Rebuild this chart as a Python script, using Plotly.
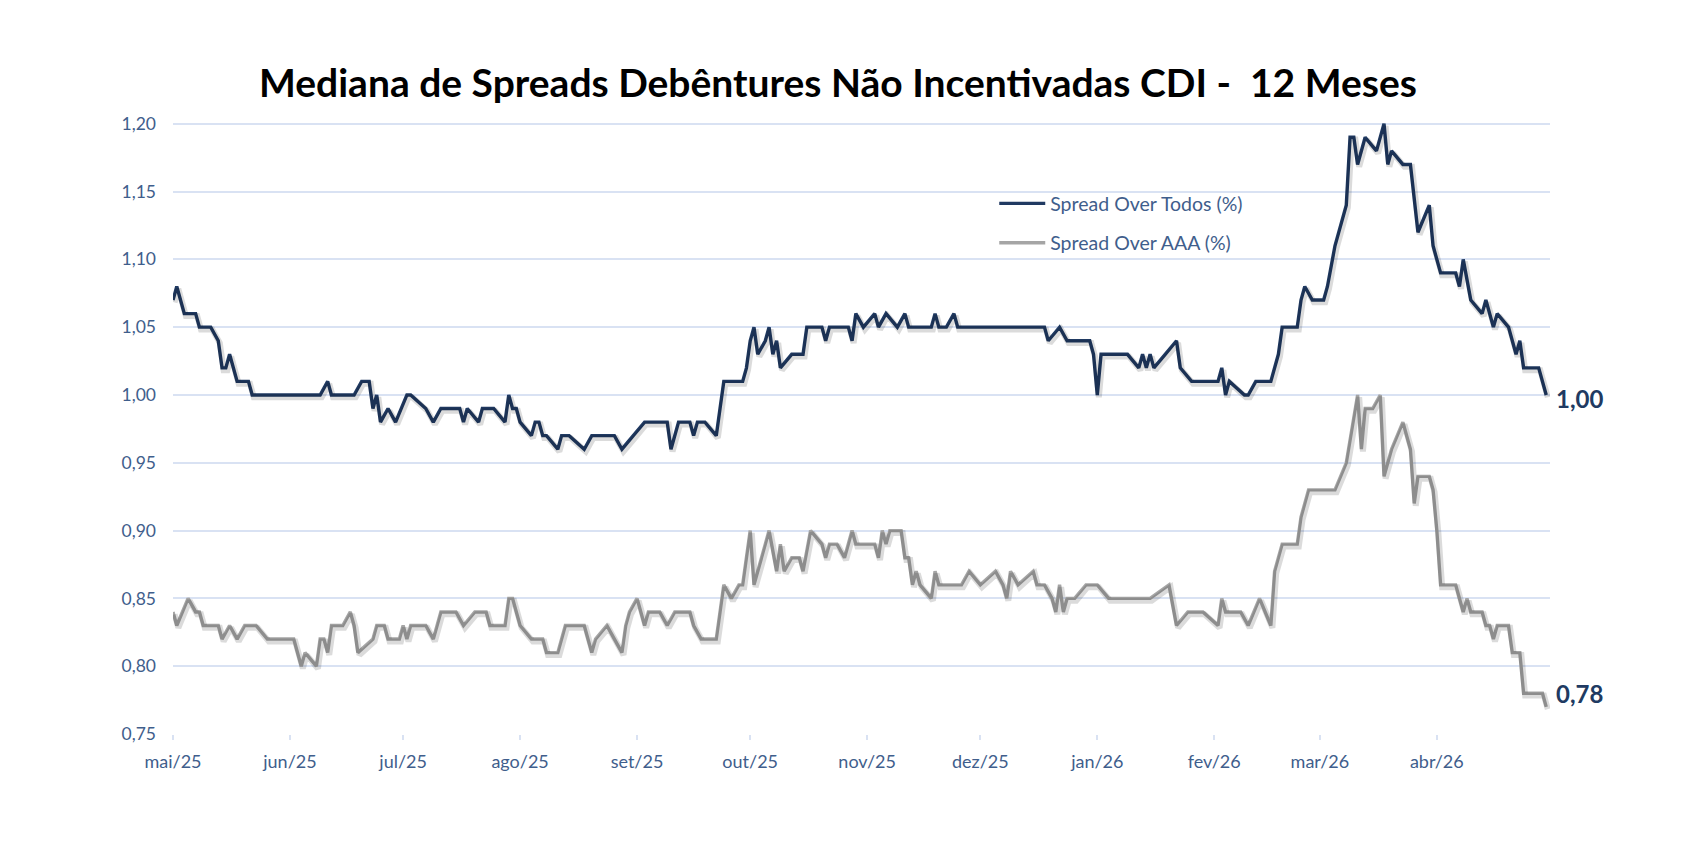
import plotly.graph_objects as go

# ---------------- data ----------------
title_text = "Mediana de Spreads Debêntures Não Incentivadas CDI -  12 Meses"
name_todos = "Spread Over Todos (%)"
name_aaa = "Spread Over AAA (%)"

dates_todos = [
    "2025-05-01", "2025-05-02", "2025-05-04", "2025-05-07", "2025-05-08", "2025-05-11", "2025-05-13",
    "2025-05-14", "2025-05-15", "2025-05-16", "2025-05-18", "2025-05-21", "2025-05-22", "2025-06-09",
    "2025-06-11", "2025-06-12", "2025-06-18", "2025-06-20", "2025-06-22", "2025-06-23", "2025-06-24",
    "2025-06-25", "2025-06-27", "2025-06-29", "2025-07-02", "2025-07-03", "2025-07-07", "2025-07-09",
    "2025-07-11", "2025-07-16", "2025-07-17", "2025-07-18", "2025-07-21", "2025-07-22", "2025-07-25",
    "2025-07-28", "2025-07-29", "2025-07-30", "2025-07-31", "2025-08-01", "2025-08-04", "2025-08-05",
    "2025-08-06", "2025-08-07", "2025-08-08", "2025-08-11", "2025-08-12", "2025-08-14", "2025-08-18",
    "2025-08-20", "2025-08-26", "2025-08-28", "2025-08-31", "2025-09-03", "2025-09-09", "2025-09-10",
    "2025-09-12", "2025-09-15", "2025-09-16", "2025-09-17", "2025-09-19", "2025-09-22", "2025-09-23",
    "2025-09-24", "2025-09-29", "2025-09-30", "2025-10-01", "2025-10-02", "2025-10-03", "2025-10-05",
    "2025-10-06", "2025-10-07", "2025-10-08", "2025-10-09", "2025-10-12", "2025-10-15", "2025-10-16",
    "2025-10-20", "2025-10-21", "2025-10-22", "2025-10-27", "2025-10-28", "2025-10-29", "2025-10-31",
    "2025-11-03", "2025-11-04", "2025-11-06", "2025-11-09", "2025-11-11", "2025-11-12", "2025-11-18",
    "2025-11-19", "2025-11-20", "2025-11-22", "2025-11-24", "2025-11-25", "2025-12-18", "2025-12-19",
    "2025-12-22", "2025-12-24", "2025-12-30", "2025-12-31", "2026-01-01", "2026-01-02", "2026-01-09",
    "2026-01-12", "2026-01-13", "2026-01-14", "2026-01-15", "2026-01-16", "2026-01-19", "2026-01-22",
    "2026-01-23", "2026-01-26", "2026-02-02", "2026-02-03", "2026-02-04", "2026-02-05", "2026-02-09",
    "2026-02-10", "2026-02-12", "2026-02-16", "2026-02-18", "2026-02-19", "2026-02-23", "2026-02-24",
    "2026-02-25", "2026-02-27", "2026-03-02", "2026-03-03", "2026-03-05", "2026-03-08", "2026-03-09",
    "2026-03-10", "2026-03-11", "2026-03-13", "2026-03-16", "2026-03-18", "2026-03-19", "2026-03-20",
    "2026-03-23", "2026-03-25", "2026-03-27", "2026-03-30", "2026-03-31", "2026-04-02", "2026-04-06",
    "2026-04-07", "2026-04-08", "2026-04-10", "2026-04-13", "2026-04-14", "2026-04-16", "2026-04-17",
    "2026-04-20", "2026-04-22", "2026-04-23", "2026-04-24", "2026-04-28", "2026-04-30",
]
todos = [
    1.07, 1.08, 1.06, 1.06, 1.05, 1.05, 1.04,
    1.02, 1.02, 1.03, 1.01, 1.01, 1.00, 1.00,
    1.01, 1.00, 1.00, 1.01, 1.01, 0.99, 1.00,
    0.98, 0.99, 0.98, 1.00, 1.00, 0.99, 0.98,
    0.99, 0.99, 0.98, 0.99, 0.98, 0.99, 0.99,
    0.98, 1.00, 0.99, 0.99, 0.98, 0.97, 0.98,
    0.98, 0.97, 0.97, 0.96, 0.97, 0.97, 0.96,
    0.97, 0.97, 0.96, 0.97, 0.98, 0.98, 0.96,
    0.98, 0.98, 0.97, 0.98, 0.98, 0.97, 0.99,
    1.01, 1.01, 1.02, 1.04, 1.05, 1.03, 1.04,
    1.05, 1.03, 1.04, 1.02, 1.03, 1.03, 1.05,
    1.05, 1.04, 1.05, 1.05, 1.04, 1.06, 1.05,
    1.06, 1.05, 1.06, 1.05, 1.06, 1.05, 1.05,
    1.06, 1.05, 1.05, 1.06, 1.05, 1.05, 1.04,
    1.05, 1.04, 1.04, 1.03, 1.00, 1.03, 1.03,
    1.02, 1.03, 1.02, 1.03, 1.02, 1.03, 1.04,
    1.02, 1.01, 1.01, 1.02, 1.00, 1.01, 1.00,
    1.00, 1.01, 1.01, 1.03, 1.05, 1.05, 1.07,
    1.08, 1.07, 1.07, 1.08, 1.11, 1.14, 1.19,
    1.19, 1.17, 1.19, 1.18, 1.20, 1.17, 1.18,
    1.17, 1.17, 1.12, 1.14, 1.11, 1.09, 1.09,
    1.08, 1.10, 1.07, 1.06, 1.07, 1.05, 1.06,
    1.05, 1.03, 1.04, 1.02, 1.02, 1.00,
]

dates_aaa = [
    "2025-05-01", "2025-05-02", "2025-05-05", "2025-05-07", "2025-05-08", "2025-05-09", "2025-05-13",
    "2025-05-14", "2025-05-16", "2025-05-18", "2025-05-20", "2025-05-23", "2025-05-26", "2025-06-02",
    "2025-06-04", "2025-06-05", "2025-06-08", "2025-06-09", "2025-06-10", "2025-06-11", "2025-06-12",
    "2025-06-15", "2025-06-17", "2025-06-18", "2025-06-19", "2025-06-23", "2025-06-24", "2025-06-26",
    "2025-06-27", "2025-06-30", "2025-07-01", "2025-07-02", "2025-07-03", "2025-07-07", "2025-07-09",
    "2025-07-11", "2025-07-15", "2025-07-17", "2025-07-20", "2025-07-23", "2025-07-24", "2025-07-28",
    "2025-07-29", "2025-07-30", "2025-08-01", "2025-08-04", "2025-08-07", "2025-08-08", "2025-08-11",
    "2025-08-12", "2025-08-13", "2025-08-18", "2025-08-20", "2025-08-21", "2025-08-24", "2025-08-26",
    "2025-08-28", "2025-08-29", "2025-08-30", "2025-09-01", "2025-09-03", "2025-09-04", "2025-09-07",
    "2025-09-09", "2025-09-11", "2025-09-15", "2025-09-16", "2025-09-18", "2025-09-22", "2025-09-23",
    "2025-09-24", "2025-09-26", "2025-09-28", "2025-09-29", "2025-10-01", "2025-10-02", "2025-10-04",
    "2025-10-06", "2025-10-08", "2025-10-09", "2025-10-10", "2025-10-12", "2025-10-14", "2025-10-15",
    "2025-10-17", "2025-10-20", "2025-10-21", "2025-10-22", "2025-10-24", "2025-10-26", "2025-10-28",
    "2025-10-29", "2025-11-03", "2025-11-04", "2025-11-05", "2025-11-06", "2025-11-07", "2025-11-10",
    "2025-11-11", "2025-11-12", "2025-11-13", "2025-11-14", "2025-11-15", "2025-11-18", "2025-11-19",
    "2025-11-20", "2025-11-26", "2025-11-28", "2025-12-01", "2025-12-05", "2025-12-07", "2025-12-08",
    "2025-12-09", "2025-12-11", "2025-12-15", "2025-12-16", "2025-12-18", "2025-12-20", "2025-12-21",
    "2025-12-22", "2025-12-23", "2025-12-24", "2025-12-26", "2025-12-29", "2026-01-01", "2026-01-04",
    "2026-01-15", "2026-01-20", "2026-01-22", "2026-01-25", "2026-01-29", "2026-02-02", "2026-02-03",
    "2026-02-04", "2026-02-08", "2026-02-10", "2026-02-13", "2026-02-16", "2026-02-17", "2026-02-19",
    "2026-02-23", "2026-02-24", "2026-02-26", "2026-03-05", "2026-03-08", "2026-03-11", "2026-03-12",
    "2026-03-13", "2026-03-15", "2026-03-17", "2026-03-18", "2026-03-20", "2026-03-23", "2026-03-25",
    "2026-03-26", "2026-03-27", "2026-03-30", "2026-03-31", "2026-04-01", "2026-04-02", "2026-04-06",
    "2026-04-07", "2026-04-08", "2026-04-09", "2026-04-10", "2026-04-13", "2026-04-14", "2026-04-15",
    "2026-04-16", "2026-04-17", "2026-04-20", "2026-04-21", "2026-04-23", "2026-04-24", "2026-04-29",
    "2026-04-30",
]
aaa = [
    0.84, 0.83, 0.85, 0.84, 0.84, 0.83, 0.83,
    0.82, 0.83, 0.82, 0.83, 0.83, 0.82, 0.82,
    0.80, 0.81, 0.80, 0.82, 0.82, 0.81, 0.83,
    0.83, 0.84, 0.83, 0.81, 0.82, 0.83, 0.83,
    0.82, 0.82, 0.83, 0.82, 0.83, 0.83, 0.82,
    0.84, 0.84, 0.83, 0.84, 0.84, 0.83, 0.83,
    0.85, 0.85, 0.83, 0.82, 0.82, 0.81, 0.81,
    0.82, 0.83, 0.83, 0.81, 0.82, 0.83, 0.82,
    0.81, 0.83, 0.84, 0.85, 0.83, 0.84, 0.84,
    0.83, 0.84, 0.84, 0.83, 0.82, 0.82, 0.84,
    0.86, 0.85, 0.86, 0.86, 0.90, 0.86, 0.88,
    0.90, 0.87, 0.89, 0.87, 0.88, 0.88, 0.87,
    0.90, 0.89, 0.88, 0.89, 0.89, 0.88, 0.90,
    0.89, 0.89, 0.88, 0.90, 0.89, 0.90, 0.90,
    0.88, 0.88, 0.86, 0.87, 0.86, 0.85, 0.87,
    0.86, 0.86, 0.87, 0.86, 0.87, 0.86, 0.85,
    0.87, 0.86, 0.87, 0.86, 0.86, 0.85, 0.84,
    0.86, 0.84, 0.85, 0.85, 0.86, 0.86, 0.85,
    0.85, 0.86, 0.83, 0.84, 0.84, 0.83, 0.85,
    0.84, 0.84, 0.83, 0.85, 0.83, 0.87, 0.89,
    0.89, 0.91, 0.93, 0.93, 0.95, 1.00, 0.96,
    0.99, 0.99, 1.00, 0.94, 0.96, 0.98, 0.96,
    0.92, 0.94, 0.94, 0.93, 0.90, 0.86, 0.86,
    0.85, 0.84, 0.85, 0.84, 0.84, 0.83, 0.83,
    0.82, 0.83, 0.83, 0.81, 0.81, 0.78, 0.78,
    0.77,
]

end_labels = [1.00, 0.78]  # values printed at the right end of each line

month_ticks = ["2025-05-01", "2025-06-01", "2025-07-01", "2025-08-01", "2025-09-01", "2025-10-01",
               "2025-11-01", "2025-12-01", "2026-01-01", "2026-02-01", "2026-03-01", "2026-04-01"]
month_labels = ["mai/25", "jun/25", "jul/25", "ago/25", "set/25", "out/25",
                "nov/25", "dez/25", "jan/26", "fev/26", "mar/26", "abr/26"]
y_ticks = [0.75, 0.80, 0.85, 0.90, 0.95, 1.00, 1.05, 1.10, 1.15, 1.20]

# ---------------- styling ----------------
NAVY = "#203A62"
GRAY = "#A5A5A5"
LABEL = "#3F5E8C"
GRID = "#D9E2F3"
FONT = "Lato"

X_RANGE = ["2025-05-01", "2026-05-01"]
Y_RANGE = [0.75, 1.2035]

fig = go.Figure()

# soft drop shadows (same data drawn on slightly offset overlay axes)
for d, v in ((dates_aaa, aaa), (dates_todos, todos)):
    fig.add_trace(go.Scatter(x=d, y=v, mode="lines", xaxis="x2", yaxis="y2",
                             line=dict(color="rgba(0,0,0,0.14)", width=6),
                             showlegend=False, hoverinfo="skip"))

fig.add_trace(go.Scatter(x=dates_todos, y=todos, mode="lines", name=name_todos,
                         legendgroup="a", line=dict(color=NAVY, width=3.4)))
fig.add_trace(go.Scatter(x=dates_aaa, y=aaa, mode="lines", name=name_aaa,
                         legendgroup="b", line=dict(color=GRAY, width=3.4)))

# end-of-line value labels
for d, lab, ys in ((dates_todos, end_labels[0], -4), (dates_aaa, end_labels[1], 0)):
    fig.add_annotation(x=d[-1], y=lab, text=f"<b>{lab:.2f}</b>".replace(".", ","),
                       showarrow=False, xanchor="left", yanchor="middle", xshift=8, yshift=ys,
                       font=dict(family=FONT, size=24, color=NAVY))

fig.update_layout(
    width=1684, height=856,
    margin=dict(l=173, r=134, t=119, b=122, pad=0),
    paper_bgcolor="white", plot_bgcolor="white",
    separators=",.",
    font=dict(family=FONT, color=LABEL),
    title=dict(text=f"<b>{title_text}</b>", x=0.4976, xanchor="center", xref="container",
               y=1 - 83 / 856, yanchor="middle", yref="container",
               font=dict(family=FONT, size=39, color="black")),
    showlegend=True,
    legend=dict(x=0.5964, y=0.894, xanchor="left", yanchor="top", bgcolor="rgba(0,0,0,0)",
                traceorder="grouped", tracegroupgap=11, itemwidth=46,
                font=dict(family=FONT, size=19.5, color=LABEL)),
    xaxis=dict(type="date", range=X_RANGE, tickvals=month_ticks, ticktext=month_labels,
               showgrid=False, zeroline=False, showline=False,
               ticks="outside", ticklen=5, tickwidth=1.5, tickcolor=GRID,
               ticklabelstandoff=6,
               tickfont=dict(family=FONT, size=18, color=LABEL)),
    yaxis=dict(range=Y_RANGE, tickvals=y_ticks, tickformat=".2f",
               showgrid=True, gridcolor=GRID, gridwidth=1.5, zeroline=False, showline=False,
               ticks="", ticklabelstandoff=16,
               tickfont=dict(family=FONT, size=17.5, color=LABEL)),
    xaxis2=dict(type="date", overlaying="x", visible=False,
                range=["2025-04-30 14:00", "2026-04-30 14:00"]),
    yaxis2=dict(overlaying="y", visible=False, range=[Y_RANGE[0] + 0.0017, Y_RANGE[1] + 0.0017]),
)

fig.write_html("out.html")
